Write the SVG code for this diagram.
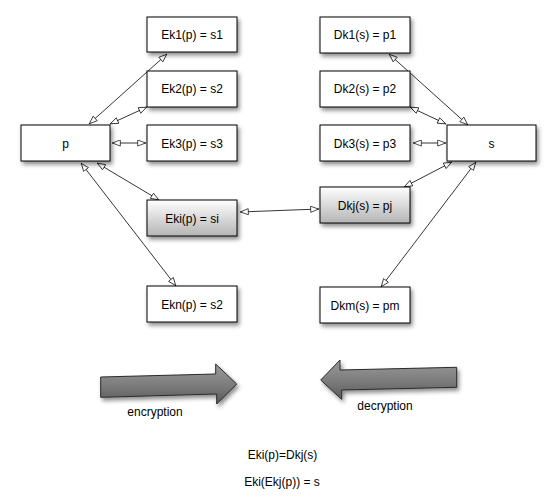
<svg xmlns="http://www.w3.org/2000/svg" width="556" height="498" viewBox="0 0 556 498">
<defs>
<filter id="sh" x="-20%" y="-20%" width="150%" height="160%">
<feDropShadow dx="2" dy="3" stdDeviation="2" flood-color="#000" flood-opacity="0.45"/>
</filter>
<linearGradient id="gbox" x1="0" y1="0" x2="0" y2="1">
<stop offset="0" stop-color="#ffffff"/>
<stop offset="1" stop-color="#b4b4b4"/>
</linearGradient>
<linearGradient id="garr" x1="0" y1="0" x2="0" y2="1">
<stop offset="0" stop-color="#9a9a9a"/>
<stop offset="0.5" stop-color="#7e7e7e"/>
<stop offset="1" stop-color="#5a5a5a"/>
</linearGradient>
<marker id="ah" viewBox="0 0 10 8" markerWidth="9" markerHeight="7" refX="10" refY="4" orient="auto-start-reverse" markerUnits="userSpaceOnUse">
<path d="M0.5,0.5 L9.5,4 L0.5,7.5 z" fill="#fff" stroke="#000" stroke-width="0.8"/>
</marker>
</defs>
<style>
.box{fill:#fff;stroke:#000;stroke-width:1;filter:url(#sh)}
.gbox{fill:url(#gbox);stroke:#000;stroke-width:1;filter:url(#sh)}
.t{font-family:"Liberation Sans",Arial,sans-serif;font-size:12px;fill:#000;text-anchor:middle}
.c{fill:none;stroke:#000;stroke-width:0.8;marker-start:url(#ah);marker-end:url(#ah)}
.big{fill:url(#garr);stroke:#2a2a2a;stroke-width:1;filter:url(#sh)}
</style>
<rect width="556" height="498" fill="#fff"/>
<g id="connectors">
<line class="c" x1="89" y1="124" x2="167" y2="54"/>
<line class="c" x1="110" y1="124" x2="147" y2="107"/>
<line class="c" x1="112" y1="143" x2="146" y2="143"/>
<line class="c" x1="97" y1="163" x2="159" y2="200"/>
<line class="c" x1="81" y1="163" x2="176" y2="286"/>
<line class="c" x1="240" y1="212" x2="319" y2="209"/>
<line class="c" x1="389" y1="54" x2="468" y2="125"/>
<line class="c" x1="410" y1="107" x2="446" y2="124"/>
<line class="c" x1="413" y1="143" x2="446" y2="143"/>
<line class="c" x1="452" y1="162" x2="404" y2="187"/>
<line class="c" x1="476" y1="162" x2="381" y2="287"/>
</g>
<g id="p"><rect class="box" x="21" y="125" width="89" height="36"/><text class="t" x="65.5" y="147.5">p</text></g>
<g id="ek1"><rect class="box" x="147" y="17" width="90" height="35"/><text class="t" x="192" y="38.5">Ek1(p) = s1</text></g>
<g id="ek2"><rect class="box" x="147" y="71" width="90" height="36"/><text class="t" x="192" y="93">Ek2(p) = s2</text></g>
<g id="ek3"><rect class="box" x="147" y="125" width="90" height="36"/><text class="t" x="192" y="147.5">Ek3(p) = s3</text></g>
<g id="eki"><rect class="gbox" x="147" y="200" width="90" height="36"/><text class="t" x="192" y="222.5">Eki(p) = si</text></g>
<g id="ekn"><rect class="box" x="147" y="286" width="90" height="36"/><text class="t" x="192" y="308.5">Ekn(p) = s2</text></g>
<g id="s"><rect class="box" x="447" y="125" width="89" height="36"/><text class="t" x="491.5" y="147.5">s</text></g>
<g id="dk1"><rect class="box" x="320" y="17" width="90" height="36"/><text class="t" x="365" y="39">Dk1(s) = p1</text></g>
<g id="dk2"><rect class="box" x="320" y="71" width="90" height="36"/><text class="t" x="365" y="93">Dk2(s) = p2</text></g>
<g id="dk3"><rect class="box" x="320" y="125" width="90" height="36"/><text class="t" x="365" y="147.5">Dk3(s) = p3</text></g>
<g id="dkj"><rect class="gbox" x="320" y="187" width="90" height="36"/><text class="t" x="365" y="209.5">Dkj(s) = pj</text></g>
<g id="dkm"><rect class="box" x="320" y="287" width="90" height="36"/><text class="t" x="365" y="309.5">Dkm(s) = pm</text></g>
<g id="encryption">
<path class="big" d="M100.7,377 L215.7,374 L215.7,364 L236.7,384 L216.7,404 L216.7,394 L100.7,397.3 z"/>
<text class="t" x="155" y="416">encryption</text>
</g>
<g id="decryption">
<path class="big" d="M456.7,367.3 L340,370 L340,360 L320.7,380 L341.7,399.3 L341.7,390 L456.7,387.3 z"/>
<text class="t" x="385" y="409.5">decryption</text>
</g>
<g id="equations">
<text class="t" x="282.5" y="459">Eki(p)=Dkj(s)</text>
<text class="t" x="282" y="486">Eki(Ekj(p)) = s</text>
</g>
</svg>
